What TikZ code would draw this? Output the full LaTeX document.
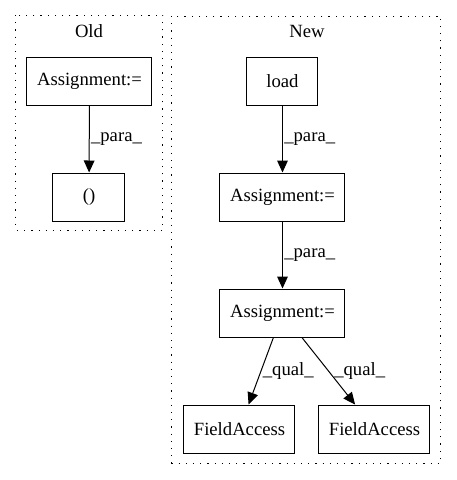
\documentclass[tikz,border=0pt]{standalone}
\usepackage{fontspec}
\setmainfont{Liberation Serif}
\usetikzlibrary{arrows.meta, positioning, quotes}
\usepackage{xcolor}

\begin{document}
\begin{tikzpicture}[x=0.75pt, y=-0.75pt, ->, >={Triangle[length=9pt, width=8pt]}, draw=black, font=\fontsize{14}{16}\selectfont]
    \tikzstyle{every edge}=[draw, line width=0.75pt]
    \tikzstyle{stmt}=[rectangle, draw=black, line width=0.75pt, minimum height=36pt, inner sep=0pt]
    \tikzstyle{wide stmt}=[stmt, minimum width=93.75pt]
    \tikzstyle{field}=[stmt, minimum width=83.25pt]
    \tikzstyle{cluster}=[draw=black, line width=0.75pt, dash pattern=on 0.9pt off 4.5pt, -]
    \tikzstyle{elabel}=[anchor=west, inner sep=1pt]

    \useasboundingbox (0,0) rectangle (457,480);

    % clusters
    \draw[cluster] (16,15) rectangle (163,230);
    \draw[cluster] (172,16) rectangle (441,463);
    \node (old) at (89,31) {Old};
    \node (new) at (307,31) {New};

    \node[wide stmt] (A-0) at (89.5,81) {Assignment:=};
    \node[stmt, minimum width=54pt] (P-0) at (89,197) {()};

    \node[stmt, minimum width=53.25pt] (L-1) at (282.5,81) {load};
    \node[wide stmt] (A-1) at (282.5,197) {Assignment:=};
    \node[wide stmt] (A-2) at (282.5,313) {Assignment:=};
    \node[field] (F-1) at (239.5,429) {FieldAccess};
    \node[field] (F-2) at (374.5,429) {FieldAccess};

    \path (A-0) edge node[elabel] {\_para\_} (P-0);
    \path (L-1) edge node[elabel] {\_para\_} (A-1);
    \path (A-1) edge node[elabel] {\_para\_} (A-2);
    \path (A-2) edge node[elabel] {\_qual\_} (F-1);
    \path (A-2) edge node[elabel, xshift=3pt] {\_qual\_} (F-2);
\end{tikzpicture}
\end{document}
